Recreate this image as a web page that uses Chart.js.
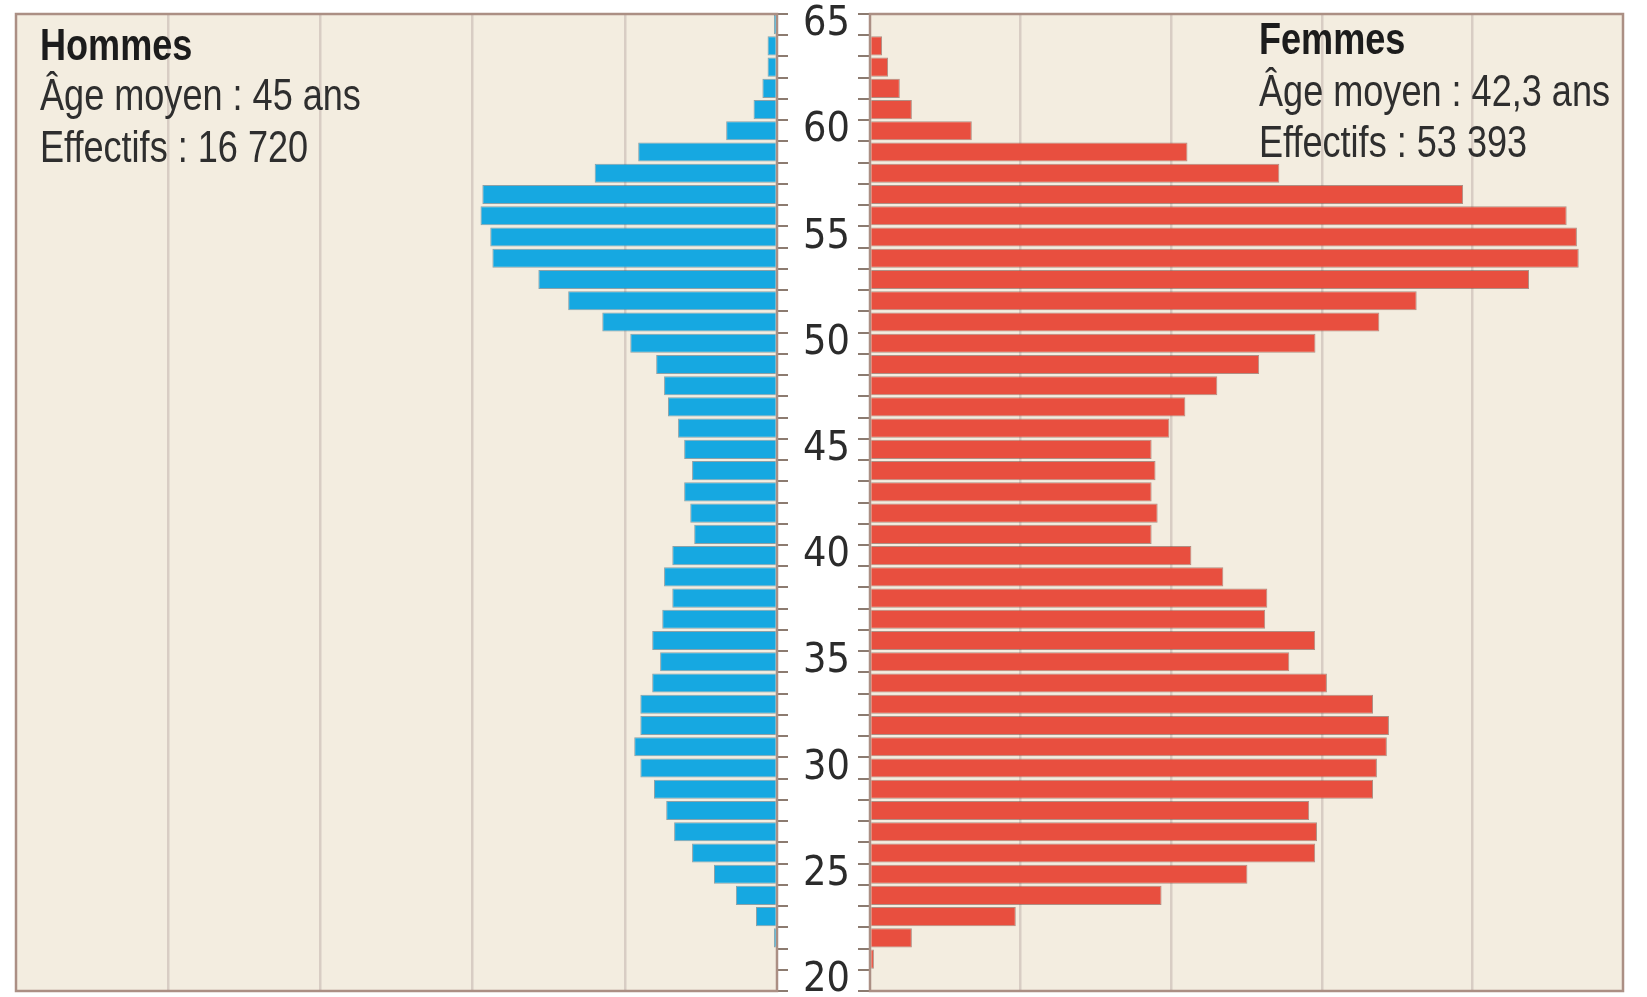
<!DOCTYPE html>
<html lang="fr">
<head>
<meta charset="utf-8">
<script src="https://cdn.jsdelivr.net/npm/chart.js@4.4.1/dist/chart.umd.min.js"></script>
<style>
  html, body { margin: 0; padding: 0; background: #fff; }
  #wrap { position: relative; width: 1647px; height: 997px; overflow: hidden; }
  canvas { position: absolute; left: 0; top: 0; }
  .txt {
    position: absolute;
    font-family: "Liberation Sans", Arial, sans-serif;
    font-size: 44px; line-height: 44px; color: #2e2e2e; white-space: nowrap;
    transform: scaleX(0.82); transform-origin: left top;
  }
  .b { font-weight: bold; color: #1c1c1c; }
</style>
</head>
<body>
<div id="wrap">
  <canvas id="hommes" width="1647" height="997"></canvas>
  <canvas id="femmes" width="1647" height="997"></canvas>
  <div class="txt b" style="left:40px;top:23px">Hommes</div>
  <div class="txt" style="left:40px;top:73px">Âge moyen : 45 ans</div>
  <div class="txt" style="left:40px;top:125px">Effectifs : 16 720</div>
  <div class="txt b" style="left:1259px;top:17px">Femmes</div>
  <div class="txt" style="left:1259px;top:69px">Âge moyen : 42,3 ans</div>
  <div class="txt" style="left:1259px;top:120px">Effectifs : 53 393</div>
</div>
<script>
// ages 20 -> 65 (bottom to top)
var ages = [];
for (var a = 20; a <= 65; a++) ages.push(String(a));

var hommes = [0, 0, 10, 69, 135, 207, 279, 338, 364, 404,
  449, 469, 449, 449, 410, 384, 410, 377, 344, 371,
  344, 272, 285, 305, 279, 305, 325, 358, 371, 397,
  482, 574, 686, 784, 935, 942, 974, 968, 599, 456,
  167, 77, 48, 31, 31, 10];

var femmes = [0, 13, 139, 484, 968, 1253, 1478, 1484, 1458, 1670,
  1683, 1716, 1723, 1670, 1517, 1392, 1478, 1312, 1319, 1173,
  1067, 935, 955, 935, 948, 935, 994, 1047, 1153, 1292,
  1479, 1691, 1815, 2188, 2353, 2347, 2313, 1969, 1359, 1054,
  338, 139, 99, 60, 40, 0];

var xMax = 2500;
var xStep = 500;

var FONT = '"DejaVu Sans Condensed", "Liberation Sans", sans-serif';
var BG = '#f3ede0';
var FRAME = '#ab8f84';
var GRID = '#d8cdc4';
var TICK = '#8c7b70';

var panelPlugin = {
  id: 'panel',
  beforeDraw: function (chart) {
    var c = chart.chartArea, ctx = chart.ctx;
    ctx.save();
    ctx.fillStyle = BG;
    ctx.fillRect(c.left, c.top, c.right - c.left, c.bottom - c.top);
    ctx.restore();
  },
  beforeDatasetsDraw: function (chart) {
    var c = chart.chartArea, ctx = chart.ctx;
    ctx.save();
    ctx.strokeStyle = FRAME;
    ctx.lineWidth = 2.5;
    ctx.strokeRect(c.left, c.top, c.right - c.left, c.bottom - c.top);
    ctx.restore();
  }
};

function gridColor(ctx) {
  var v = ctx.tick && ctx.tick.value;
  return (v === 0 || v === xMax) ? 'rgba(0,0,0,0)' : GRID;
}

// keep the tick labels from pushing the plot area inwards
function fixAxis(width) {
  return function (s) {
    s.width = width;
    s.paddingTop = 0;
    s.paddingBottom = 0;
  };
}

Chart.defaults.animation = false;
Chart.defaults.font.family = FONT;

new Chart(document.getElementById('hommes'), {
  type: 'bar',
  data: {
    labels: ages,
    datasets: [{
      data: hommes,
      backgroundColor: '#16a8e1',
      borderColor: 'rgba(70,110,130,0.6)',
      borderWidth: 1,
      borderSkipped: 'start',
      barPercentage: 0.9,
      categoryPercentage: 1
    }]
  },
  options: {
    indexAxis: 'y',
    responsive: false,
    layout: { padding: { left: 16, top: 14, bottom: 6, right: 790 } },
    plugins: { legend: { display: false }, tooltip: { enabled: false } },
    scales: {
      x: {
        reverse: true, min: 0, max: xMax,
        ticks: { display: false, stepSize: xStep },
        grid: { color: gridColor, lineWidth: 2.5, drawTicks: false },
        border: { display: false }
      },
      y: {
        position: 'right',
        reverse: true,
        grid: { drawOnChartArea: false, drawTicks: true, tickLength: 11, color: TICK, lineWidth: 2 },
        border: { display: false },
        ticks: {
          autoSkip: false,
          padding: 15,
          crossAlign: 'center',
          color: '#2b2b2b',
          font: { size: 41, family: FONT },
          callback: function (value) {
            var lab = this.getLabelForValue(value);
            return (Number(lab) % 5 === 0) ? lab : '';
          }
        },
        afterFit: fixAxis(80)
      }
    }
  },
  plugins: [panelPlugin]
});

new Chart(document.getElementById('femmes'), {
  type: 'bar',
  data: {
    labels: ages,
    datasets: [{
      data: femmes,
      backgroundColor: '#e84f3f',
      borderColor: 'rgba(130,80,70,0.6)',
      borderWidth: 1,
      borderSkipped: 'start',
      barPercentage: 0.9,
      categoryPercentage: 1
    }]
  },
  options: {
    indexAxis: 'y',
    responsive: false,
    layout: { padding: { left: 858, top: 14, bottom: 6, right: 24 } },
    plugins: { legend: { display: false }, tooltip: { enabled: false } },
    scales: {
      x: {
        min: 0, max: xMax,
        ticks: { display: false, stepSize: xStep },
        grid: { color: gridColor, lineWidth: 2.5, drawTicks: false },
        border: { display: false }
      },
      y: {
        position: 'left',
        reverse: true,
        grid: { drawOnChartArea: false, drawTicks: true, tickLength: 12, color: TICK, lineWidth: 2 },
        border: { display: false },
        ticks: { display: false, autoSkip: false },
        afterFit: fixAxis(12)
      }
    }
  },
  plugins: [panelPlugin]
});
</script>
</body>
</html>
